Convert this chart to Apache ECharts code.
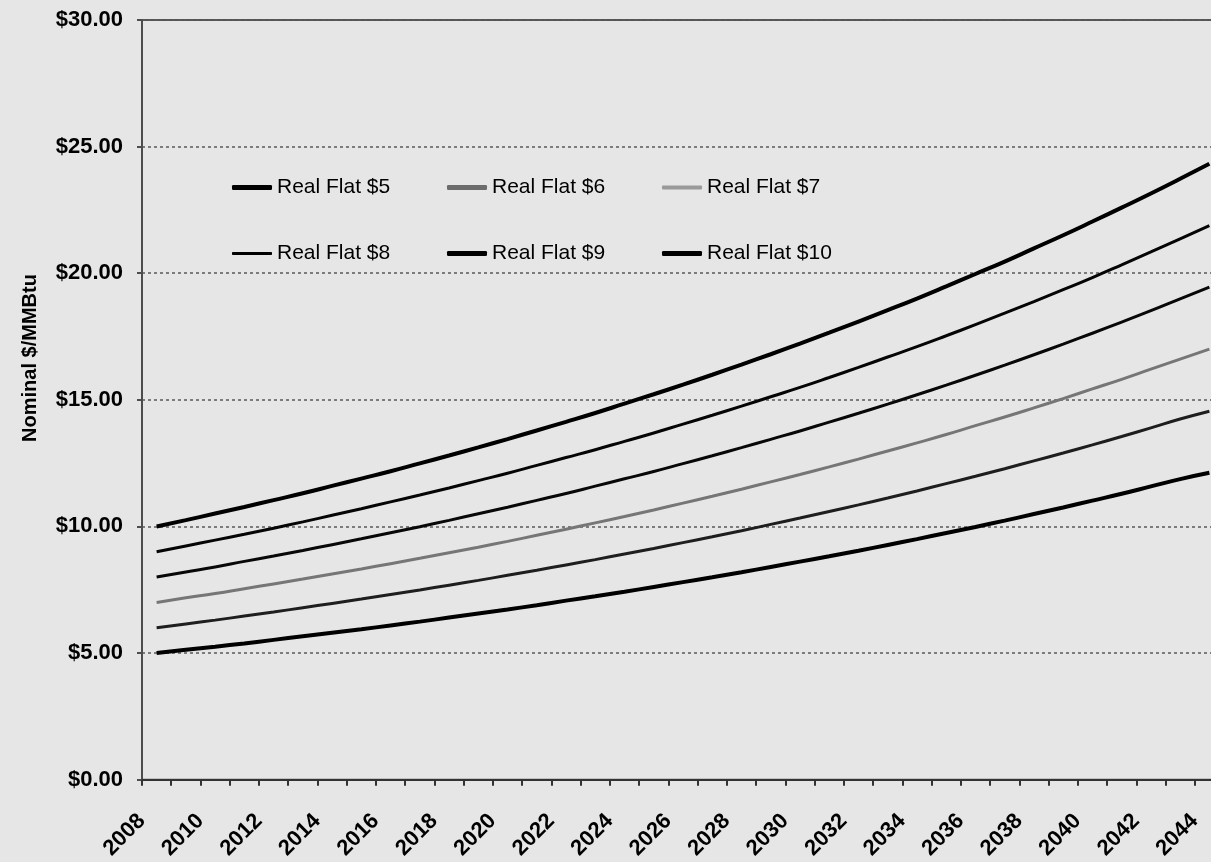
<!DOCTYPE html>
<html>
<head>
<meta charset="utf-8">
<title>Nominal gas price paths</title>
<script src="https://cdn.jsdelivr.net/npm/echarts@6/dist/echarts.min.js"></script>
<style>
  html, body { margin: 0; padding: 0; overflow: hidden; background: #e6e6e6; }
  #chart { width: 1240px; height: 862px; }
</style>
</head>
<body>
<div id="chart"></div>
<script>
// Years on the category axis
const years = [];
for (let y = 2008; y <= 2044; y++) years.push(String(y));

// Nominal $/MMBtu paths for each flat real price
const realFlat5 = [5.00, 5.13, 5.25, 5.38, 5.52, 5.66, 5.80, 5.94, 6.09, 6.24, 6.40, 6.56, 6.72, 6.89, 7.07, 7.24, 7.42, 7.61, 7.80, 7.99, 8.19, 8.40, 8.61, 8.82, 9.04, 9.27, 9.50, 9.74, 9.98, 10.23, 10.49, 10.75, 11.02, 11.29, 11.58, 11.87, 12.12];
const realFlat6 = [6.00, 6.15, 6.30, 6.46, 6.62, 6.79, 6.96, 7.13, 7.31, 7.49, 7.68, 7.87, 8.07, 8.27, 8.48, 8.69, 8.91, 9.13, 9.36, 9.59, 9.83, 10.08, 10.33, 10.59, 10.85, 11.12, 11.40, 11.69, 11.98, 12.28, 12.59, 12.90, 13.22, 13.55, 13.89, 14.24, 14.55];
const realFlat7 = [7.00, 7.18, 7.35, 7.54, 7.73, 7.92, 8.12, 8.32, 8.53, 8.74, 8.96, 9.18, 9.41, 9.65, 9.89, 10.14, 10.39, 10.65, 10.92, 11.19, 11.47, 11.76, 12.05, 12.35, 12.66, 12.98, 13.30, 13.63, 13.98, 14.32, 14.68, 15.05, 15.43, 15.81, 16.21, 16.61, 17.00];
const realFlat8 = [8.00, 8.20, 8.40, 8.62, 8.83, 9.05, 9.28, 9.51, 9.75, 9.99, 10.24, 10.50, 10.76, 11.03, 11.30, 11.59, 11.88, 12.17, 12.48, 12.79, 13.11, 13.44, 13.77, 14.12, 14.47, 14.83, 15.20, 15.58, 15.97, 16.37, 16.78, 17.20, 17.63, 18.07, 18.52, 18.99, 19.45];
const realFlat9 = [9.00, 9.23, 9.46, 9.69, 9.93, 10.18, 10.44, 10.70, 10.97, 11.24, 11.52, 11.81, 12.10, 12.41, 12.72, 13.03, 13.36, 13.69, 14.04, 14.39, 14.75, 15.12, 15.49, 15.88, 16.28, 16.69, 17.10, 17.53, 17.97, 18.42, 18.88, 19.35, 19.83, 20.33, 20.84, 21.36, 21.88];
const realFlat10 = [10.00, 10.25, 10.51, 10.77, 11.04, 11.31, 11.60, 11.89, 12.18, 12.49, 12.80, 13.12, 13.45, 13.79, 14.13, 14.48, 14.85, 15.22, 15.60, 15.99, 16.39, 16.80, 17.22, 17.65, 18.09, 18.54, 19.00, 19.48, 19.97, 20.46, 20.98, 21.50, 22.04, 22.59, 23.15, 23.73, 24.32];

const seriesNames = ['Real Flat $5', 'Real Flat $6', 'Real Flat $7', 'Real Flat $8', 'Real Flat $9', 'Real Flat $10'];
const seriesData = [realFlat5, realFlat6, realFlat7, realFlat8, realFlat9, realFlat10];

// Line look in the plot and in the key
const lineColors = ['#000000', '#1e1e1e', '#767676', '#080808', '#050505', '#000000'];
const lineWidths = [4, 3, 3, 3, 3, 4];
const keyColors = ['#000000', '#6c6c6c', '#9a9a9a', '#000000', '#000000', '#000000'];
const keyWidths = [5, 5, 4, 3, 5, 5];

// Key grid: three columns, two rows
const keyCols = [232, 447, 662];
const keyRows = [177, 243];

const yTicks = { min: 0, max: 30, step: 5 };

const chart = echarts.init(document.getElementById('chart'), null, { renderer: 'canvas', width: 1240, height: 862 });

const legends = seriesNames.map((name, i) => ({
  top: keyRows[Math.floor(i / 3)],
  left: keyCols[i % 3],
  orient: 'horizontal',
  padding: 0,
  itemWidth: 40,
  itemHeight: keyWidths[i],
  itemGap: 0,
  selectedMode: false,
  textStyle: {
    fontFamily: 'Liberation Sans, Arial, sans-serif',
    fontSize: 21,
    color: '#000'
  },
  data: [{
    name: name,
    icon: 'roundRect',
    itemStyle: { color: keyColors[i] }
  }]
}));

const series = seriesNames.map((name, i) => ({
  name: name,
  type: 'line',
  data: seriesData[i],
  symbol: 'none',
  smooth: true,
  lineStyle: { color: lineColors[i], width: lineWidths[i] },
  itemStyle: { color: lineColors[i] },
  emphasis: { disabled: true },
  z: 3
}));

chart.setOption({
  backgroundColor: '#e6e6e6',
  animation: false,
  grid: {
    left: 142,
    top: 20,
    width: 1082,
    height: 764,
    show: true,
    borderColor: '#555',
    borderWidth: 2,
    backgroundColor: 'transparent'
  },
  legend: legends,
  xAxis: {
    type: 'category',
    data: years,
    boundaryGap: true,
    axisLine: { lineStyle: { color: '#333', width: 2 } },
    axisTick: { show: true, interval: 0, length: 6, inside: false, lineStyle: { color: '#333', width: 2 } },
    axisLabel: {
      interval: 1,
      rotate: 45,
      margin: 23,
      padding: [0, 21, 0, 0],
      color: '#000',
      fontFamily: 'Liberation Sans, Arial, sans-serif',
      fontWeight: 'bold',
      fontSize: 22
    },
    splitLine: { show: false }
  },
  yAxis: {
    type: 'value',
    min: yTicks.min,
    max: yTicks.max,
    interval: yTicks.step,
    axisLine: { show: true, lineStyle: { color: '#4d4d4d', width: 2 } },
    axisTick: { show: true, length: 5, lineStyle: { color: '#4d4d4d', width: 2 } },
    axisLabel: {
      margin: 19,
      color: '#000',
      fontFamily: 'Liberation Sans, Arial, sans-serif',
      fontWeight: 'bold',
      fontSize: 22,
      formatter: v => '$' + v.toFixed(2)
    },
    splitLine: { show: true, lineStyle: { color: '#5a5a5a', width: 1.5, type: [3, 3] } }
  },
  graphic: [{
    type: 'text',
    x: 30,
    y: 358,
    rotation: Math.PI / 2,
    style: {
      text: 'Nominal $/MMBtu',
      fill: '#000',
      font: 'bold 20px "Liberation Sans", Arial, sans-serif',
      textAlign: 'center',
      textVerticalAlign: 'middle'
    }
  }],
  series: series
});
</script>
</body>
</html>
